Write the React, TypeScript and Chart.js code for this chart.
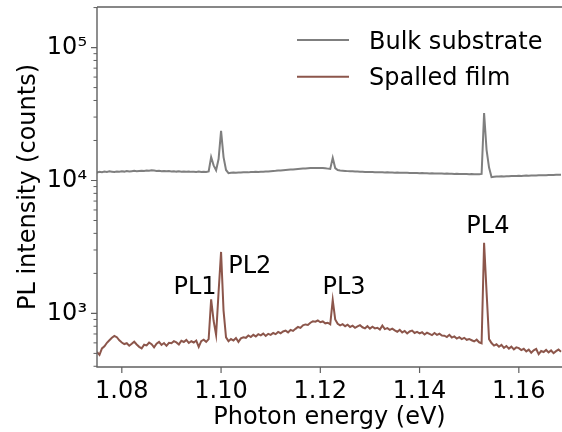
import React, { useEffect, useRef } from 'react';
import { Chart, registerables } from 'chart.js';

Chart.register(...registerables);

// Photon energy grid (eV)
const energy = [
  1.0750, 1.0755, 1.0760, 1.0765, 1.0770, 1.0775, 1.0780, 1.0785, 1.0790, 1.0795,
  1.0800, 1.0805, 1.0810, 1.0815, 1.0820, 1.0825, 1.0830, 1.0835, 1.0840, 1.0845,
  1.0850, 1.0855, 1.0860, 1.0865, 1.0870, 1.0875, 1.0880, 1.0885, 1.0890, 1.0895,
  1.0900, 1.0905, 1.0910, 1.0915, 1.0920, 1.0925, 1.0930, 1.0935, 1.0940, 1.0945,
  1.0950, 1.0955, 1.0960, 1.0965, 1.0970, 1.0975, 1.0980, 1.0985, 1.0990, 1.0995,
  1.1000, 1.1005, 1.1010, 1.1015, 1.1020, 1.1025, 1.1030, 1.1035, 1.1040, 1.1045,
  1.1050, 1.1055, 1.1060, 1.1065, 1.1070, 1.1075, 1.1080, 1.1085, 1.1090, 1.1095,
  1.1100, 1.1105, 1.1110, 1.1115, 1.1120, 1.1125, 1.1130, 1.1135, 1.1140, 1.1145,
  1.1150, 1.1155, 1.1160, 1.1165, 1.1170, 1.1175, 1.1180, 1.1185, 1.1190, 1.1195,
  1.1200, 1.1205, 1.1210, 1.1215, 1.1220, 1.1225, 1.1230, 1.1235, 1.1240, 1.1245,
  1.1250, 1.1255, 1.1260, 1.1265, 1.1270, 1.1275, 1.1280, 1.1285, 1.1290, 1.1295,
  1.1300, 1.1305, 1.1310, 1.1315, 1.1320, 1.1325, 1.1330, 1.1335, 1.1340, 1.1345,
  1.1350, 1.1355, 1.1360, 1.1365, 1.1370, 1.1375, 1.1380, 1.1385, 1.1390, 1.1395,
  1.1400, 1.1405, 1.1410, 1.1415, 1.1420, 1.1425, 1.1430, 1.1435, 1.1440, 1.1445,
  1.1450, 1.1455, 1.1460, 1.1465, 1.1470, 1.1475, 1.1480, 1.1485, 1.1490, 1.1495,
  1.1500, 1.1505, 1.1510, 1.1515, 1.1520, 1.1525, 1.1530, 1.1535, 1.1540, 1.1545,
  1.1550, 1.1555, 1.1560, 1.1565, 1.1570, 1.1575, 1.1580, 1.1585, 1.1590, 1.1595,
  1.1600, 1.1605, 1.1610, 1.1615, 1.1620, 1.1625, 1.1630, 1.1635, 1.1640, 1.1645,
  1.1650, 1.1655, 1.1660, 1.1665, 1.1670, 1.1675, 1.1680, 1.1685,
];

// PL intensity (counts), bulk substrate
const bulkSubstrate = [
  11480, 11620, 11550, 11690, 11610, 11730, 11650, 11580, 11700, 11640,
  11710, 11660, 11780, 11690, 11750, 11820, 11740, 11800, 11860, 11790,
  11880, 11830, 11920, 11870, 11810, 11850, 11760, 11800, 11720, 11770,
  11700, 11740, 11660, 11710, 11640, 11690, 11620, 11680, 11610, 11650,
  11600, 11660, 11590, 11640, 11580, 11700, 15000, 13000, 11950, 14500,
  23600, 15000, 12000, 11350, 11420, 11480, 11450, 11500, 11470, 11520,
  11540, 11510, 11580, 11560, 11620, 11590, 11650, 11630, 11680, 11700,
  11740, 11790, 11820, 11880, 11910, 11960, 12010, 12040, 12080, 12110,
  12160, 12200, 12250, 12290, 12320, 12360, 12400, 12420, 12440, 12430,
  12420, 12390, 12340, 12280, 12230, 14800, 12400, 11980, 11900, 11850,
  11800, 11760, 11730, 11710, 11680, 11660, 11640, 11620, 11600, 11590,
  11570, 11580, 11540, 11550, 11520, 11530, 11490, 11510, 11470, 11480,
  11450, 11470, 11430, 11440, 11410, 11430, 11390, 11400, 11370, 11390,
  11350, 11370, 11330, 11340, 11310, 11330, 11290, 11310, 11270, 11290,
  11250, 11270, 11230, 11250, 11210, 11230, 11190, 11210, 11170, 11190,
  11150, 11170, 11160, 11130, 11150, 11200, 32200, 17000, 12500, 10600,
  10680, 10720, 10700, 10750, 10730, 10770, 10760, 10800, 10790, 10820,
  10840, 10830, 10860, 10880, 10870, 10900, 10920, 10910, 10940, 10950,
  10970, 10960, 10990, 11010, 11000, 11030, 11040, 11050,
];

// PL intensity (counts), spalled film
const spalledFilm = [
  512, 488, 545, 566, 601, 628, 655, 676, 662, 627,
  604, 588, 596, 571, 590, 612, 583, 560, 545, 581,
  574, 603, 587, 556, 592, 610, 579, 598, 570, 601,
  596, 618, 605, 584, 622, 609, 631, 599, 617, 604,
  625, 560, 618, 634, 611, 640, 1274, 880, 690, 1450,
  2900, 1050, 660, 618, 641, 625, 652, 610, 648, 660,
  655, 682, 664, 690, 671, 698, 684, 705, 676, 702,
  690, 712, 698, 725, 709, 731, 742, 720, 751, 738,
  765, 790, 778, 812, 826, 818, 851, 872, 865, 884,
  858, 870, 842, 851, 828, 1259, 900, 836, 812, 829,
  801, 822, 790, 808, 779, 797, 815, 786, 772, 801,
  768, 793, 771, 780, 756, 809, 762, 774, 751, 768,
  745, 728, 752, 719, 737, 706, 731, 742, 712, 725,
  708, 721, 694, 715, 701, 686, 712, 690, 703, 681,
  679, 664, 690, 658, 671, 647, 662, 641, 655, 633,
  642, 628, 615, 634, 606, 596, 3400, 1450, 640, 598,
  572, 585, 561, 579, 550, 568, 543, 562, 536, 555,
  548, 529, 541, 518, 533, 506, 527, 540, 493, 521,
  512, 531, 509, 526, 502, 520, 534, 515,
];

const seriesLabels = ['Bulk substrate', 'Spalled film'];
const seriesColors = ['#7f7f7f', '#8c564b'];

const xTicks = [1.08, 1.10, 1.12, 1.14, 1.16];
const yTicks = [1e3, 1e4, 1e5];
const yTickLabels = ['10³', '10⁴', '10⁵'];

const peakLabels = ['PL1', 'PL2', 'PL3', 'PL4'];
const peakLabelEnergy = [1.0904, 1.10145, 1.12044, 1.14942];
const peakLabelCounts = [1397, 1999, 1397, 3999];

const X_MIN = 1.075;
const X_MAX = 1.1687;
const Y_MIN = 395;
const Y_MAX = 202000;

const FONT_FAMILY = '"DejaVu Sans", sans-serif';
const FONT_SIZE = 24;

const decorPlugin = {
  id: 'decor',
  afterDraw(chart: any) {
    const { ctx, chartArea: a, scales } = chart;
    const xs = scales.x;
    const ys = scales.y;
    ctx.save();

    // spines
    ctx.lineCap = 'butt';
    ctx.strokeStyle = '#111';
    ctx.lineWidth = 1.2;
    ctx.beginPath();
    ctx.moveTo(a.left, a.top);
    ctx.lineTo(a.right, a.top);
    ctx.stroke();

    ctx.strokeStyle = '#606060';
    ctx.lineWidth = 1.4;
    ctx.beginPath();
    ctx.moveTo(a.left, a.top);
    ctx.lineTo(a.left, a.bottom);
    ctx.lineTo(a.right, a.bottom);
    ctx.stroke();

    // tick marks
    ctx.lineWidth = 1.2;
    ctx.beginPath();
    for (const v of xTicks) {
      const px = xs.getPixelForValue(v);
      ctx.moveTo(px, a.bottom);
      ctx.lineTo(px, a.bottom + 6);
    }
    for (const v of yTicks) {
      const py = ys.getPixelForValue(v);
      ctx.moveTo(a.left - 6, py);
      ctx.lineTo(a.left, py);
    }
    ctx.stroke();
    ctx.lineWidth = 1;
    ctx.beginPath();
    for (let e = 2; e <= 5; e++) {
      for (let m = 2; m <= 9; m++) {
        const v = m * Math.pow(10, e);
        if (v < ys.min || v > ys.max) continue;
        const py = ys.getPixelForValue(v);
        ctx.moveTo(a.left - 3.5, py);
        ctx.lineTo(a.left, py);
      }
    }
    ctx.stroke();

    // peak annotations
    ctx.fillStyle = '#000';
    ctx.font = `${FONT_SIZE}px ${FONT_FAMILY}`;
    ctx.textAlign = 'left';
    ctx.textBaseline = 'alphabetic';
    peakLabels.forEach((t, i) => {
      ctx.fillText(t, xs.getPixelForValue(peakLabelEnergy[i]), ys.getPixelForValue(peakLabelCounts[i]));
    });

    // legend
    chart.data.datasets.forEach((ds: any, i: number) => {
      const y = a.top + 33 + i * 36.7;
      ctx.strokeStyle = ds.borderColor;
      ctx.lineWidth = 2;
      ctx.beginPath();
      ctx.moveTo(a.right - 265, y);
      ctx.lineTo(a.right - 213, y);
      ctx.stroke();
      ctx.fillStyle = '#000';
      ctx.fillText(ds.label, a.right - 193, y + 8.5);
    });

    ctx.restore();
  },
};

export default function App() {
  const ref = useRef<HTMLCanvasElement | null>(null);

  useEffect(() => {
    if (!ref.current) return;
    const font = { family: FONT_FAMILY, size: FONT_SIZE };
    const chart = new Chart(ref.current, {
      type: 'line',
      data: {
        datasets: [
          {
            label: seriesLabels[0],
            data: energy.map((x, i) => ({ x, y: bulkSubstrate[i] })),
            borderColor: seriesColors[0],
            backgroundColor: seriesColors[0],
            borderWidth: 2,
            pointRadius: 0,
            tension: 0,
            fill: false,
          },
          {
            label: seriesLabels[1],
            data: energy.map((x, i) => ({ x, y: spalledFilm[i] })),
            borderColor: seriesColors[1],
            backgroundColor: seriesColors[1],
            borderWidth: 2,
            pointRadius: 0,
            tension: 0,
            fill: false,
          },
        ],
      },
      options: {
        responsive: false,
        animation: false,
        layout: { padding: { left: 0, right: 0, top: 7, bottom: 0 } },
        plugins: {
          legend: { display: false },
          tooltip: { enabled: false },
        },
        scales: {
          x: {
            type: 'linear',
            min: X_MIN,
            max: X_MAX,
            afterBuildTicks: (s: any) => {
              s.ticks = xTicks.map((v) => ({ value: v }));
            },
            afterFit: (s: any) => {
              s.height = 65;
              s.paddingLeft = 0;
              s.paddingRight = 0;
            },
            grid: { display: false, drawTicks: false },
            border: { display: false },
            ticks: {
              font,
              color: '#000',
              padding: 10,
              maxRotation: 0,
              autoSkip: false,
              callback: (v: any) => Number(v).toFixed(2),
            },
            title: {
              display: true,
              text: 'Photon energy (eV)',
              font,
              color: '#000',
              padding: { top: 0, bottom: 0 },
            },
          },
          y: {
            type: 'logarithmic',
            min: Y_MIN,
            max: Y_MAX,
            afterBuildTicks: (s: any) => {
              s.ticks = yTicks.map((v) => ({ value: v }));
            },
            afterFit: (s: any) => {
              s.width = 97;
              s.paddingTop = 0;
              s.paddingBottom = 0;
            },
            grid: { display: false, drawTicks: false },
            border: { display: false },
            ticks: {
              font,
              color: '#000',
              padding: 10,
              autoSkip: false,
              callback: (v: any) => {
                const k = yTicks.indexOf(Number(v));
                return k >= 0 ? yTickLabels[k] : '';
              },
            },
            title: {
              display: true,
              text: 'PL intensity (counts)',
              font,
              color: '#000',
              padding: { top: 14, bottom: 0 },
            },
          },
        },
      },
      plugins: [decorPlugin],
    } as any);
    return () => chart.destroy();
  }, []);

  return (
    <div style={{ position: 'fixed', left: 0, top: 0, width: 562, height: 432, background: '#fff' }}>
      <canvas ref={ref} width={562} height={432} />
    </div>
  );
}
